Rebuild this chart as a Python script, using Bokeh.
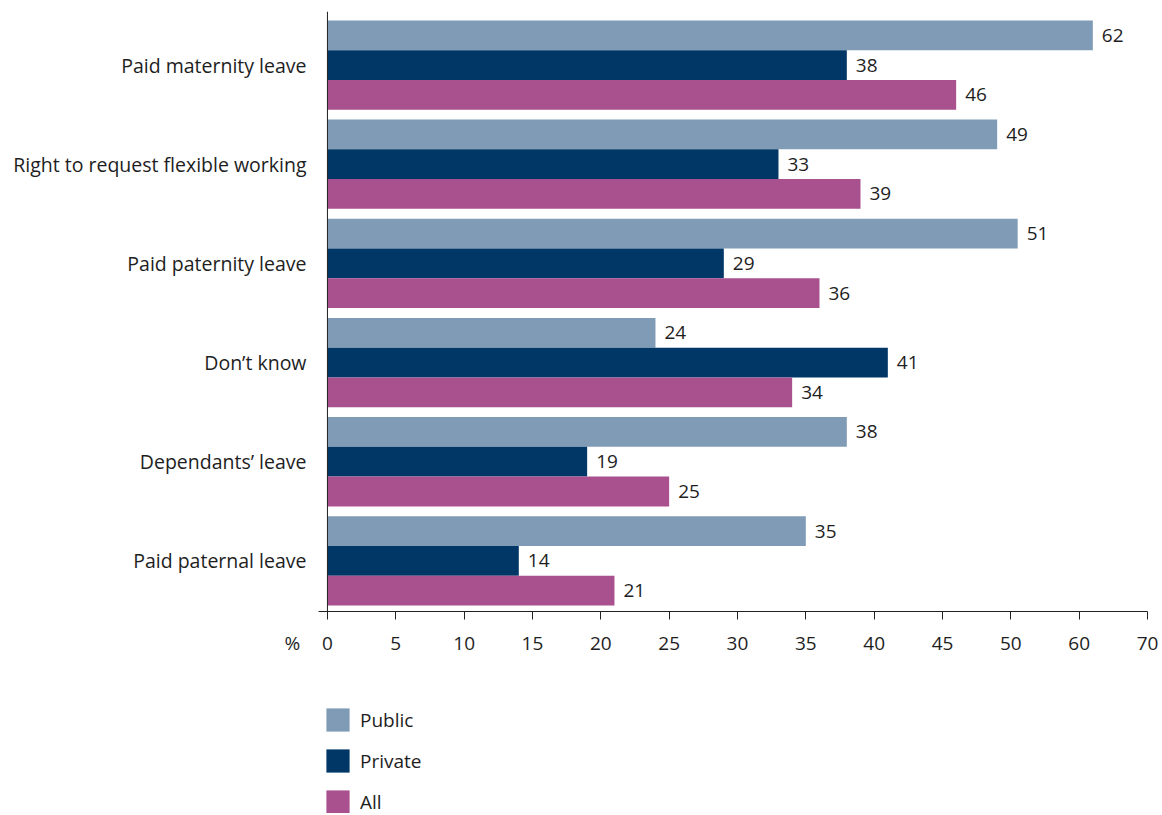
from bokeh.plotting import figure
from bokeh.layouts import column
from bokeh.models import (Range1d, Span, Legend, LegendItem, FixedTicker,
                          ColumnDataSource, LinearAxis)
from bokeh.embed import file_html
from bokeh.resources import INLINE
from bokeh.core.properties import value

# ---- data ----
categories = ["Paid maternity leave", "Right to request flexible working",
              "Paid paternity leave", "Don\u2019t know", "Dependants\u2019 leave",
              "Paid paternal leave"]
public = [62, 49, 51, 24, 38, 35]
private = [38, 33, 29, 41, 19, 14]
all_sectors = [46, 39, 36, 34, 25, 21]
series_names = ["Public", "Private", "All"]
series_values = [public, private, all_sectors]
x_tick_labels = [0, 5, 10, 15, 20, 25, 30, 35, 40, 45, 50, 60, 70]
unit_label = "%"

# ---- styling ----
colors = ["#7f9bb6", "#003767", "#a9508f"]
FONT = "Open Sans"
FS = "19px"
FS_CAT = "19.5px"
TXT = "#1e1e1e"
LINE = "#222222"


def to_axis(v):
    # the source axis is compressed above 50: each tick step beyond 50 is 10 units
    r = v if v <= 50 else 50 + (v - 50) / 2
    return int(r) if float(r).is_integer() else r


n = len(categories)
pos = [n - 1 - i for i in range(n)]
offsets = [0.3, 0.0, -0.3]
unit_pos = -2.56          # where the "%" sits, left of zero

p = figure(width=1160, height=660, output_backend="svg", toolbar_location=None,
           x_range=Range1d(-3.07, 60), y_range=Range1d(-0.51, 5.54),
           x_axis_type=None,
           min_border_left=285, min_border_right=13, min_border_top=11,
           min_border_bottom=49)
p.outline_line_color = None
p.ygrid.visible = False

sources = []
for name, vals, col, off in zip(series_names, series_values, colors, offsets):
    src = ColumnDataSource(dict(
        y=[q + off for q in pos],
        x=[to_axis(v) for v in vals],
        label=[str(v) for v in vals],
    ))
    sources.append(src)
    p.hbar(y="y", right="x", left=0, height=0.3, source=src,
           fill_color=col, line_color=None)
    p.text(x="x", y="y", text="label", source=src, x_offset=9,
           text_baseline="middle", text_align="left",
           text_font=value(FONT), text_font_size=FS, text_color=TXT)

p.add_layout(Span(location=0, dimension="height", line_color=LINE,
                  line_width=1))

tick_pos = [to_axis(t) for t in x_tick_labels]

# x axis: line + tick marks
xa_line = LinearAxis(ticker=FixedTicker(ticks=tick_pos), bounds=(-0.66, 60),
                     axis_line_color=LINE, major_tick_line_color=LINE,
                     major_tick_in=0, major_tick_out=8,
                     minor_tick_line_color=None,
                     major_label_text_font_size="0px", major_label_standoff=0,
                     major_label_text_color=None)
p.add_layout(xa_line, "below")

# x axis: tick labels (including the unit)
overrides = {to_axis(t): str(t) for t in x_tick_labels}
overrides[unit_pos] = unit_label
xa_lab = LinearAxis(ticker=FixedTicker(ticks=[unit_pos] + tick_pos),
                    major_label_overrides=overrides,
                    axis_line_color=None, major_tick_line_color=None,
                    major_tick_in=0, major_tick_out=0,
                    minor_tick_line_color=None,
                    major_label_standoff=10,
                    major_label_text_font=FONT, major_label_text_font_size=FS,
                    major_label_text_color=TXT)
p.add_layout(xa_lab, "below")

# y axis
ya = p.yaxis[0]
ya.ticker = FixedTicker(ticks=pos)
ya.major_label_overrides = {q: c for q, c in zip(pos, categories)}
ya.axis_line_color = None
ya.major_tick_line_color = None
ya.minor_tick_line_color = None
ya.major_label_text_font = FONT
ya.major_label_text_font_size = FS_CAT
ya.major_label_text_color = TXT
ya.major_label_standoff = -27

# ---- legend strip below the chart (frames are aligned by the column) ----
lg = figure(width=1160, height=153, output_backend="svg", toolbar_location=None,
            x_axis_type=None, y_axis_type=None,
            x_range=Range1d(-3.07, 60), y_range=Range1d(-0.51, 5.54),
            min_border_left=0, min_border_right=0, min_border_top=0,
            min_border_bottom=0)
lg.outline_line_color = None
items = []
for name, col, src in zip(series_names, colors, sources):
    r = lg.hbar(y="y", right="x", left=0, height=0.3, source=src,
                fill_color=col, line_color=None, visible=False)
    items.append(LegendItem(label=name, renderers=[r]))

legend = Legend(items=items, location=(38, -3), orientation="vertical",
                glyph_width=29, glyph_height=29, spacing=12, label_standoff=8,
                padding=0, margin=0, border_line_color=None,
                background_fill_color=None, inactive_fill_alpha=0,
                label_text_font=FONT, label_text_font_size=FS,
                label_text_color=TXT)
lg.add_layout(legend)

open("out.html", "w").write(file_html(column(p, lg, spacing=0), INLINE))
